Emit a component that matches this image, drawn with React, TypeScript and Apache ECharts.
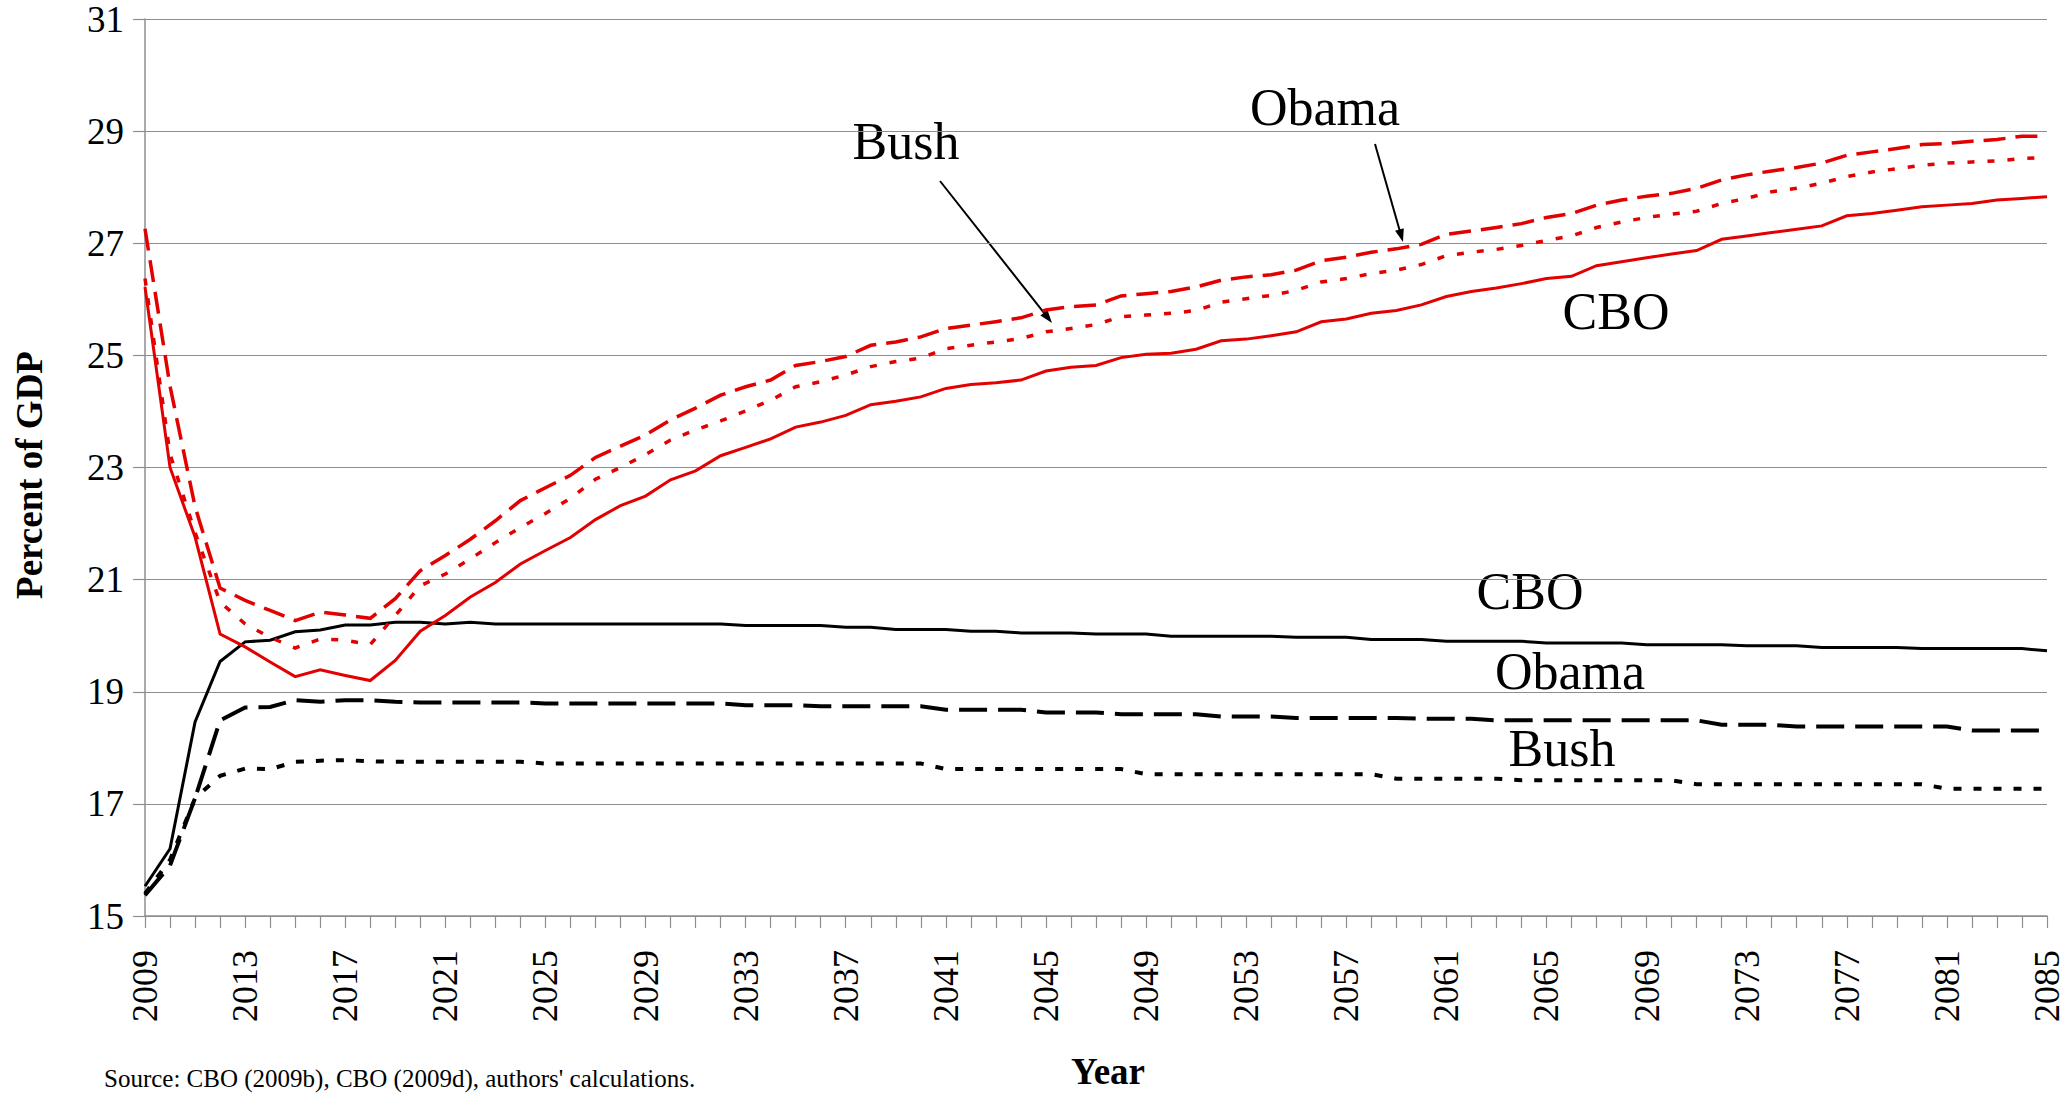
import React, { useEffect, useRef } from "react";
import * as echarts from "echarts";

// ---------- data ----------
const years: string[] = [];
for (let y = 2009; y <= 2085; y++) years.push(String(y));

const yTicks = [15, 17, 19, 21, 23, 25, 27, 29, 31];

// Outlays (red)
const outlaysCBO = [
  26.22, 23.0, 21.76, 20.03, 19.8, 19.53, 19.27, 19.39, 19.29, 19.2,
  19.56, 20.08, 20.36, 20.69, 20.95, 21.28, 21.52, 21.75, 22.07, 22.32,
  22.49, 22.78, 22.94, 23.21, 23.36, 23.51, 23.72, 23.81, 23.93, 24.12,
  24.18, 24.26, 24.41, 24.48, 24.51, 24.56, 24.72, 24.79, 24.82, 24.96,
  25.02, 25.04, 25.11, 25.26, 25.29, 25.35, 25.42, 25.6, 25.65, 25.75,
  25.8, 25.9, 26.05, 26.14, 26.2, 26.28, 26.37, 26.41, 26.6, 26.67,
  26.74, 26.81, 26.87, 27.07, 27.13, 27.19, 27.25, 27.31, 27.49, 27.53,
  27.59, 27.65, 27.68, 27.71, 27.77, 27.8, 27.83,
];
const outlaysObama = [
  27.26, 24.45, 22.3, 20.85, 20.63, 20.45, 20.27, 20.42, 20.37, 20.31,
  20.66, 21.16, 21.43, 21.72, 22.05, 22.41, 22.64, 22.86, 23.18, 23.38,
  23.58, 23.85, 24.06, 24.29, 24.44, 24.56, 24.82, 24.89, 24.98, 25.18,
  25.24, 25.33, 25.48, 25.54, 25.6, 25.67, 25.81, 25.87, 25.9, 26.06,
  26.1, 26.14, 26.22, 26.34, 26.4, 26.44, 26.52, 26.69, 26.75, 26.84,
  26.9, 26.98, 27.16, 27.22, 27.28, 27.35, 27.46, 27.53, 27.68, 27.77,
  27.84, 27.89, 27.98, 28.13, 28.22, 28.29, 28.35, 28.43, 28.57, 28.63,
  28.69, 28.76, 28.78, 28.82, 28.85, 28.91, 28.91,
];
const outlaysBush = [
  26.37, 23.24, 21.84, 20.6, 20.21, 19.97, 19.78, 19.94, 19.92, 19.84,
  20.36, 20.89, 21.1, 21.37, 21.66, 21.93, 22.18, 22.45, 22.79, 23.0,
  23.23, 23.49, 23.67, 23.83, 24.01, 24.2, 24.44, 24.53, 24.65, 24.8,
  24.89, 24.95, 25.12, 25.18, 25.24, 25.3, 25.42, 25.48, 25.55, 25.69,
  25.72, 25.75, 25.8, 25.95, 26.01, 26.07, 26.16, 26.31, 26.37, 26.46,
  26.52, 26.62, 26.78, 26.84, 26.89, 26.96, 27.05, 27.13, 27.28, 27.38,
  27.46, 27.52, 27.57, 27.71, 27.8, 27.92, 27.98, 28.07, 28.19, 28.27,
  28.33, 28.39, 28.43, 28.45, 28.47, 28.51, 28.53,
];

// Revenues (black)
const revenuesCBO = [
  15.53, 16.2, 18.46, 19.54, 19.89, 19.92, 20.07, 20.1, 20.19, 20.19,
  20.24, 20.24, 20.21, 20.24, 20.21, 20.21, 20.21, 20.21, 20.21, 20.21,
  20.21, 20.21, 20.21, 20.21, 20.18, 20.18, 20.18, 20.18, 20.15, 20.15,
  20.11, 20.11, 20.11, 20.08, 20.08, 20.05, 20.05, 20.05, 20.03, 20.03,
  20.03, 19.99, 19.99, 19.99, 19.99, 19.99, 19.97, 19.97, 19.97, 19.93,
  19.93, 19.93, 19.9, 19.9, 19.9, 19.9, 19.87, 19.87, 19.87, 19.87,
  19.84, 19.84, 19.84, 19.84, 19.82, 19.82, 19.82, 19.79, 19.79, 19.79,
  19.79, 19.77, 19.77, 19.77, 19.77, 19.77, 19.73,
];
const revenuesObama = [
  15.37, 15.9, 17.1, 18.49, 18.72, 18.73, 18.85, 18.82, 18.85, 18.85,
  18.82, 18.81, 18.81, 18.81, 18.81, 18.81, 18.79, 18.79, 18.79, 18.79,
  18.79, 18.79, 18.79, 18.79, 18.76, 18.76, 18.76, 18.74, 18.74, 18.74,
  18.74, 18.74, 18.68, 18.68, 18.68, 18.68, 18.63, 18.63, 18.63, 18.6,
  18.6, 18.6, 18.6, 18.56, 18.56, 18.56, 18.53, 18.53, 18.53, 18.53,
  18.53, 18.52, 18.52, 18.52, 18.49, 18.49, 18.49, 18.49, 18.49, 18.49,
  18.49, 18.49, 18.49, 18.41, 18.41, 18.41, 18.38, 18.38, 18.38, 18.38,
  18.38, 18.38, 18.38, 18.31, 18.31, 18.31, 18.31,
];
const revenuesBush = [
  15.4, 16.0, 17.1, 17.5, 17.63, 17.62, 17.75, 17.77, 17.78, 17.76,
  17.75, 17.75, 17.75, 17.75, 17.75, 17.75, 17.72, 17.72, 17.72, 17.72,
  17.72, 17.72, 17.72, 17.72, 17.72, 17.72, 17.72, 17.72, 17.72, 17.72,
  17.72, 17.72, 17.62, 17.62, 17.62, 17.62, 17.62, 17.62, 17.62, 17.62,
  17.53, 17.53, 17.53, 17.53, 17.53, 17.53, 17.53, 17.53, 17.53, 17.53,
  17.45, 17.45, 17.45, 17.45, 17.45, 17.42, 17.42, 17.42, 17.42, 17.42,
  17.42, 17.42, 17.35, 17.35, 17.35, 17.35, 17.35, 17.35, 17.35, 17.35,
  17.35, 17.35, 17.27, 17.27, 17.27, 17.27, 17.27,
];

// ---------- styling ----------
const RED = "#e20000";
const BLACK = "#000000";
const GRAY = "#8e8e8e";
const SERIF = "'Liberation Serif', 'Times New Roman', serif";

function arrow(x1: number, y1: number, x2: number, y2: number) {
  const dx = x2 - x1;
  const dy = y2 - y1;
  const L = Math.hypot(dx, dy);
  const ux = dx / L;
  const uy = dy / L;
  const hl = 13;
  const hw = 4.5;
  const bx = x2 - ux * hl;
  const by = y2 - uy * hl;
  return [
    {
      type: "line",
      shape: { x1, y1, x2: bx + ux * 2, y2: by + uy * 2 },
      style: { stroke: BLACK, lineWidth: 2 },
    },
    {
      type: "polygon",
      shape: {
        points: [
          [x2, y2],
          [bx - uy * hw, by + ux * hw],
          [bx + uy * hw, by - ux * hw],
        ],
      },
      style: { fill: BLACK },
    },
  ];
}

function label(text: string, x: number, y: number, size = 52) {
  return {
    type: "text",
    x,
    y,
    style: {
      text,
      font: `${size}px ${SERIF}`,
      fill: BLACK,
      textAlign: "center",
      textVerticalAlign: "middle",
    },
  };
}

export default function App() {
  const ref = useRef<HTMLDivElement>(null);

  useEffect(() => {
    if (!ref.current) return;
    const chart = echarts.init(ref.current, null, { renderer: "svg" });

    const line = (
      name: string,
      data: number[],
      color: string,
      width: number,
      type: any,
      z: number
    ) => ({
      name,
      type: "line",
      data,
      symbol: "none",
      smooth: false,
      z,
      lineStyle: { color, width, type, cap: "butt", join: "miter" },
      itemStyle: { color },
    });

    chart.setOption({
      animation: false,
      backgroundColor: "#ffffff",
      grid: { left: 145, right: 23, top: 19, bottom: 177, containLabel: false },
      xAxis: {
        type: "category",
        data: years,
        boundaryGap: false,
        axisLine: { show: true, lineStyle: { color: GRAY, width: 1.5 } },
        axisTick: {
          show: true,
          interval: 0,
          length: 12,
          lineStyle: { color: GRAY, width: 1.2 },
        },
        axisLabel: {
          interval: 3,
          rotate: 90,
          margin: 34,
          fontFamily: SERIF,
          fontSize: 36,
          color: BLACK,
        },
        splitLine: { show: false },
      },
      yAxis: {
        type: "value",
        min: yTicks[0],
        max: yTicks[yTicks.length - 1],
        interval: 2,
        axisLine: { show: true, lineStyle: { color: GRAY, width: 1.5 } },
        axisTick: { show: true, length: 12, lineStyle: { color: GRAY, width: 1.2 } },
        axisLabel: {
          margin: 21,
          fontFamily: SERIF,
          fontSize: 37,
          color: BLACK,
        },
        splitLine: { show: true, lineStyle: { color: GRAY, width: 1.2 } },
      },
      series: [
        line("Revenues CBO", revenuesCBO, BLACK, 3, "solid", 3),
        line("Revenues Obama", revenuesObama, BLACK, 4, [28, 11], 3),
        line("Revenues Bush", revenuesBush, BLACK, 4, [8, 12], 3),
        line("Outlays CBO", outlaysCBO, RED, 3, "solid", 4),
        line("Outlays Obama", outlaysObama, RED, 3.5, [22, 10], 4),
        line("Outlays Bush", outlaysBush, RED, 3.5, [7, 13], 4),
      ],
      graphic: [
        label("Bush", 906, 141),
        label("Obama", 1325, 107),
        label("CBO", 1616, 311),
        label("CBO", 1530, 591),
        label("Obama", 1570, 671),
        label("Bush", 1562, 748),
        ...arrow(940, 181, 1052, 323),
        ...arrow(1375, 144, 1403, 242),
        {
          type: "text",
          x: 29,
          y: 475,
          rotation: Math.PI / 2,
          style: {
            text: "Percent of GDP",
            font: `bold 37px ${SERIF}`,
            fill: BLACK,
            textAlign: "center",
            textVerticalAlign: "middle",
          },
        },
        {
          type: "text",
          x: 1108,
          y: 1071,
          style: {
            text: "Year",
            font: `bold 37px ${SERIF}`,
            fill: BLACK,
            textAlign: "center",
            textVerticalAlign: "middle",
          },
        },
        {
          type: "text",
          x: 104,
          y: 1078,
          style: {
            text: "Source: CBO (2009b), CBO (2009d), authors' calculations.",
            font: `25px ${SERIF}`,
            fill: BLACK,
            textAlign: "left",
            textVerticalAlign: "middle",
          },
        },
      ],
    });

    return () => chart.dispose();
  }, []);

  return (
    <div
      ref={ref}
      style={{ position: "absolute", left: 0, top: 0, width: 2070, height: 1093 }}
    />
  );
}
